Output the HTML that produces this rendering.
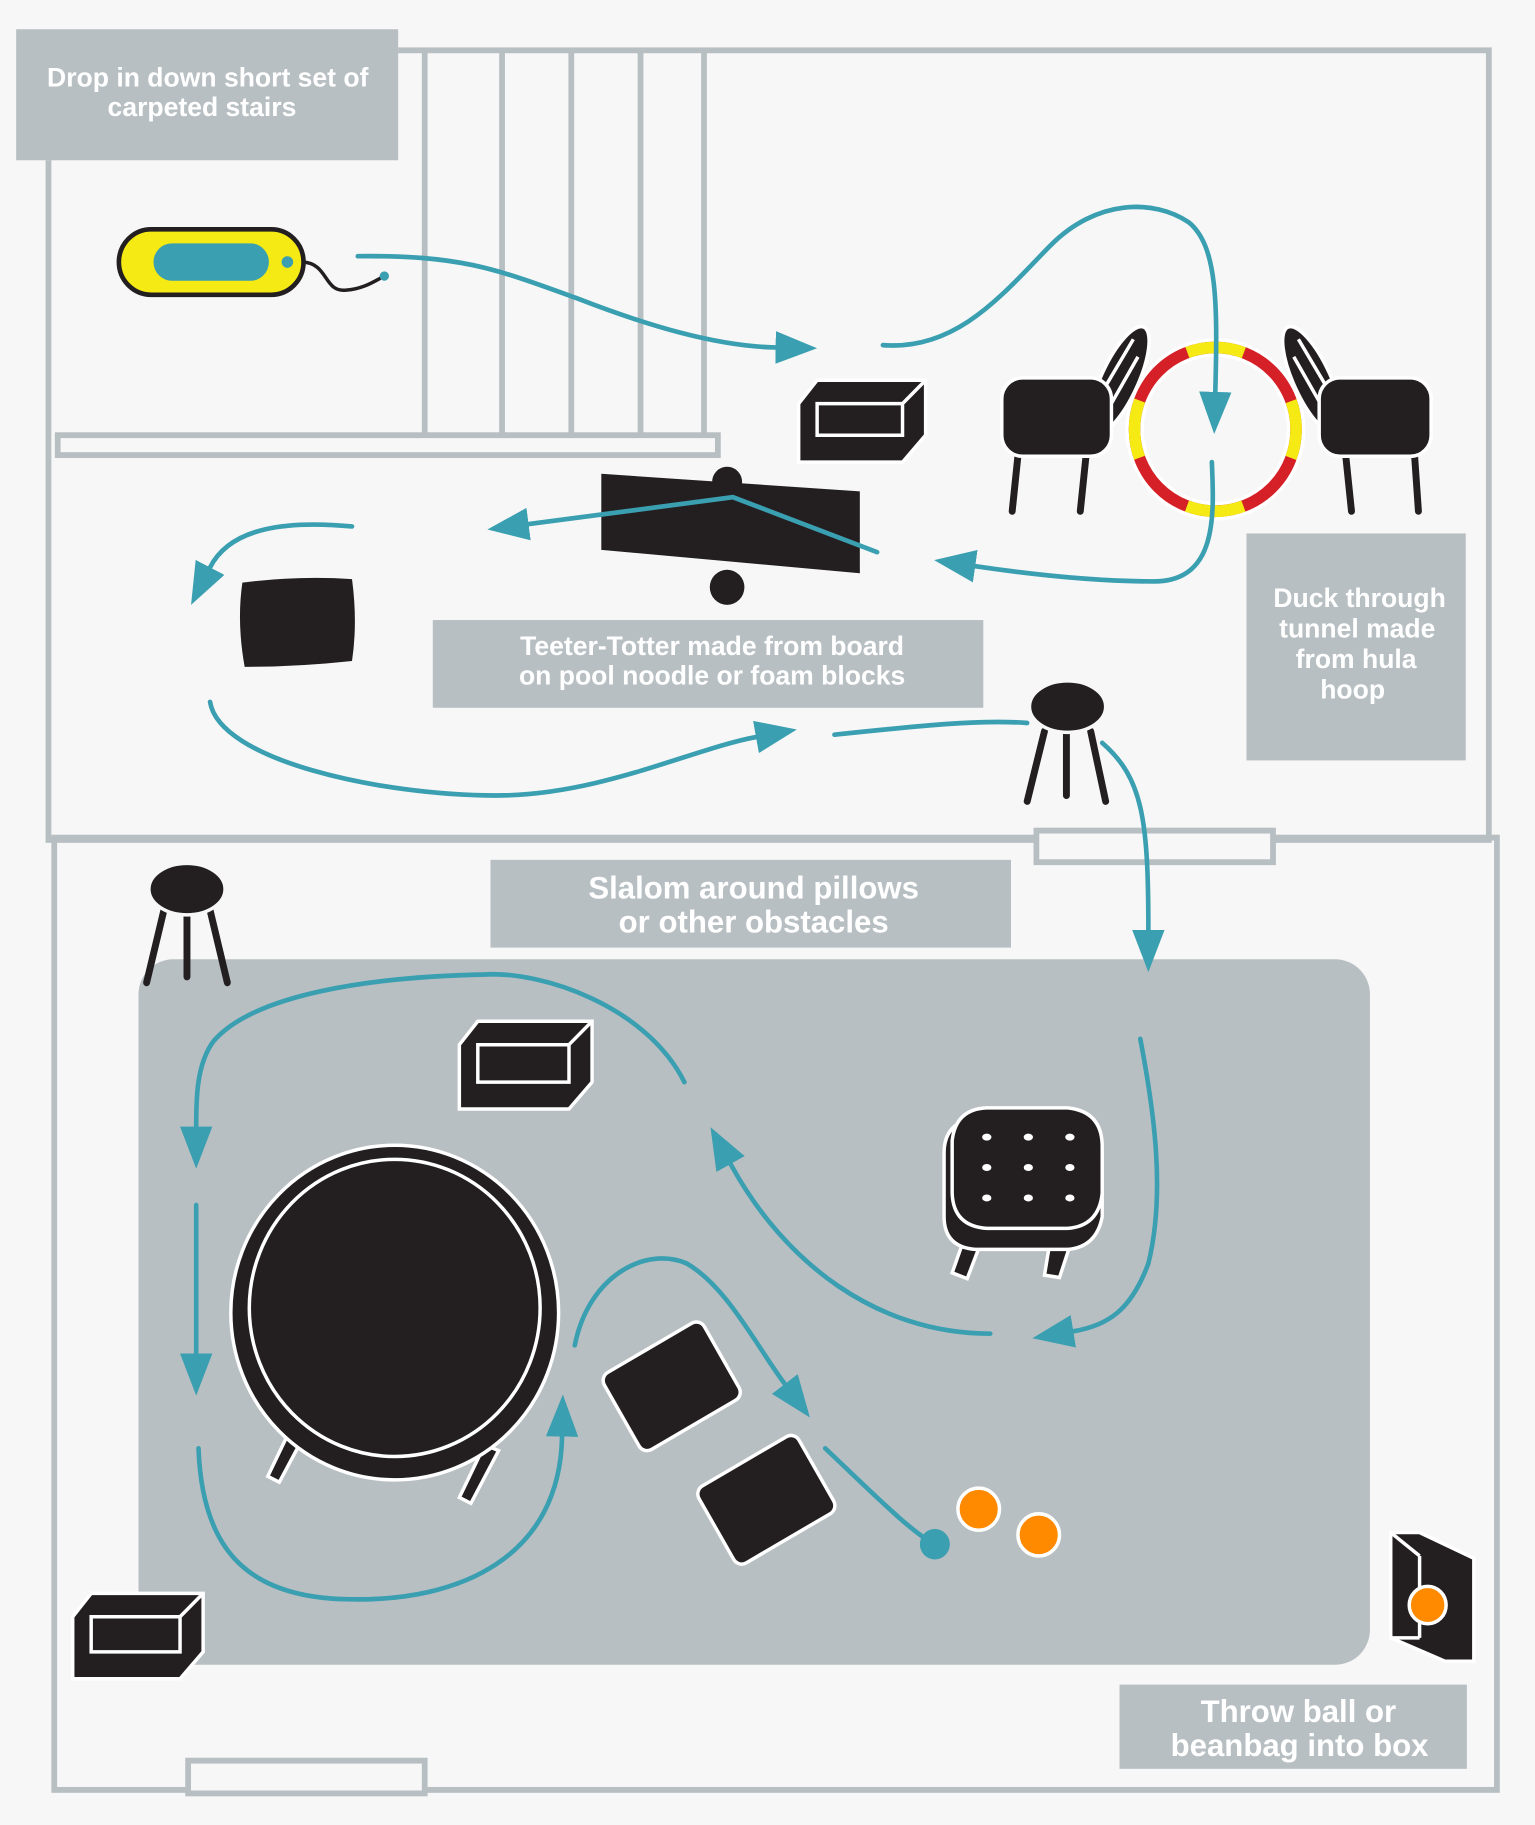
<!DOCTYPE html>
<html><head><meta charset="utf-8"><style>
html,body{margin:0;padding:0;background:#f7f7f7;}
svg{display:block;}
text{font-family:"Liberation Sans",sans-serif;font-weight:bold;fill:#fff;text-anchor:middle;}
</style></head><body>
<svg width="1535" height="1825" viewBox="0 0 1330 1560" preserveAspectRatio="none" xmlns="http://www.w3.org/2000/svg">
<defs>
<marker id="a" viewBox="0 0 10 10" refX="0" refY="5" markerWidth="36" markerHeight="28" markerUnits="userSpaceOnUse" orient="auto" preserveAspectRatio="none">
<path d="M0,0 L10,5 L0,10 z" fill="#3a9fb0"/></marker>
</defs>
<rect width="1330" height="1560" fill="#f7f7f7"/>
<g fill="none" stroke="#b8bfc3" stroke-width="5">
<path d="M42,137 L42,718 L1290,718 L1290,43 L345,43"/>
<line x1="368" y1="43" x2="368" y2="372"/><line x1="435" y1="43" x2="435" y2="372"/>
<line x1="495" y1="43" x2="495" y2="372"/><line x1="555" y1="43" x2="555" y2="372"/>
<line x1="610" y1="43" x2="610" y2="372"/>
<rect x="50" y="372" width="572" height="17"/>
<rect x="47" y="716" width="1250" height="814"/>
<rect x="898" y="710" width="205" height="27" fill="#f7f7f7"/>
<rect x="163" y="1505" width="205" height="28" fill="#f7f7f7"/>
</g>
<rect x="14" y="25" width="331" height="112" fill="#b8bfc3"/>
<text x="180" y="74" font-size="23">Drop in down short set of</text>
<text x="175" y="99" font-size="23">carpeted stairs</text>
<rect x="120" y="820" width="1067" height="603" rx="30" fill="#b8bfc3"/>
<rect x="375" y="530" width="477" height="75" fill="#b8bfc3"/>
<text x="617" y="560" font-size="23">Teeter-Totter made from board</text>
<text x="617" y="585" font-size="23">on pool noodle or foam blocks</text>
<rect x="1080" y="456" width="190" height="194" fill="#b8bfc3"/>
<text x="1178" y="519" font-size="23">Duck through</text>
<text x="1176" y="545" font-size="23">tunnel made</text>
<text x="1175" y="571" font-size="23">from hula</text>
<text x="1172" y="597" font-size="23">hoop</text>
<rect x="425" y="735" width="451" height="75" fill="#b8bfc3"/>
<text x="653" y="768" font-size="27">Slalom around pillows</text>
<text x="653" y="797" font-size="27">or other obstacles</text>
<rect x="970" y="1440" width="301" height="72" fill="#b8bfc3"/>
<text x="1125" y="1472" font-size="27">Throw ball or</text>
<text x="1126" y="1501" font-size="27">beanbag into box</text>

<g fill="#231f20">
<rect x="103" y="196" width="160" height="56" rx="28" fill="#f5ea14" stroke="#231f20" stroke-width="4"/>
<rect x="133" y="208" width="100" height="32" rx="16" fill="#3a9fb0"/>
<circle cx="249" cy="224" r="5" fill="#3a9fb0"/>
<path d="M262,224 C285,225 280,250 300,248 C315,247 325,240 333,236" fill="none" stroke="#231f20" stroke-width="3"/>
<circle cx="333" cy="236" r="4" fill="#3a9fb0"/>
<g stroke="#fff" stroke-width="3">
<polygon points="692,345 708,325 802,325 802,372 782,395 692,395"/>
<polygon points="398,893 414,873 513,873 513,925 493,948 398,948"/>
<polygon points="63,1382 79,1362 176,1362 176,1412 156,1435 63,1435"/>
<polygon points="1205,1310 1230,1310 1277,1332 1277,1420 1252,1420 1205,1400"/>
</g>
<g fill="none" stroke="#fff" stroke-width="3">
<path d="M708,345 H782 V372 H708 Z M782,345 L802,325"/>
<path d="M414,893 H493 V925 H414 Z M493,893 L513,873"/>
<path d="M79,1382 H156 V1412 H79 Z M156,1382 L176,1362"/>
<path d="M1230,1330 V1400 M1205,1310 L1230,1330 M1205,1400 L1230,1400"/>
</g>
<circle cx="1237" cy="1372" r="16" fill="#ff8a00" stroke="#fff" stroke-width="3"/>
<circle cx="630" cy="412" r="13"/>
<circle cx="630" cy="502" r="15"/>
<polygon points="521,405 745,420 745,490 521,470"/>
<g fill="none" stroke="#231f20" stroke-width="6" stroke-linecap="round">
<line x1="883" y1="380" x2="877" y2="437"/><line x1="942" y1="380" x2="936" y2="437"/>
<line x1="1165" y1="380" x2="1171" y2="437"/><line x1="1225" y1="380" x2="1229" y2="437"/>
</g>
<ellipse cx="970" cy="325" rx="16" ry="50" transform="rotate(25 970 325)" stroke="#fff" stroke-width="3"/>
<ellipse cx="1137" cy="325" rx="16" ry="50" transform="rotate(-25 1137 325)" stroke="#fff" stroke-width="3"/>
<g stroke="#fff" stroke-width="3">
<line x1="958" y1="330" x2="982" y2="290"/><line x1="960" y1="350" x2="986" y2="305"/>
<line x1="1149" y1="330" x2="1125" y2="290"/><line x1="1147" y1="350" x2="1121" y2="305"/>
</g>
<rect x="868" y="323" width="95" height="67" rx="18" stroke="#fff" stroke-width="3"/>
<rect x="1143" y="323" width="97" height="67" rx="18" stroke="#fff" stroke-width="3"/>
<circle cx="1053" cy="367" r="70" fill="none" stroke="#fff" stroke-width="16"/>
<circle cx="1053" cy="367" r="70" fill="none" stroke="#d62027" stroke-width="10"/>
<circle cx="1053" cy="367" r="70" fill="none" stroke="#f5ea14" stroke-width="10" stroke-dasharray="50 60" stroke-dashoffset="25"/>
<path d="M210,498 Q258,492 305,495 Q310,532 305,565 Q258,570 212,570 Q205,532 210,498 Z"/>
<g fill="none" stroke="#231f20" stroke-width="6" stroke-linecap="round">
<line x1="905" y1="625" x2="890" y2="685"/><line x1="924" y1="628" x2="924" y2="680"/><line x1="945" y1="625" x2="958" y2="685"/>
<line x1="142" y1="778" x2="127" y2="840"/><line x1="162" y1="780" x2="162" y2="835"/><line x1="182" y1="778" x2="197" y2="840"/>
</g>
<ellipse cx="925" cy="604" rx="33" ry="22" stroke="#f7f7f7" stroke-width="3"/>
<ellipse cx="162" cy="760" rx="33" ry="22" stroke="#f7f7f7" stroke-width="3"/>
<g stroke="#fff" stroke-width="3">
<path d="M250,1225 L232,1262 L242,1267 L262,1230 Z"/>
<path d="M420,1235 L398,1280 L408,1285 L432,1240 Z"/>
<ellipse cx="342" cy="1122" rx="142" ry="143"/>
</g>
<ellipse cx="342" cy="1118" rx="126" ry="127" fill="none" stroke="#fff" stroke-width="3"/>
<g stroke="#fff" stroke-width="3">
<path d="M835,1060 L825,1088 L838,1093 L850,1062 Z"/>
<path d="M910,1060 L905,1090 L918,1092 L928,1062 Z"/>
<path d="M818,985 Q818,960 845,955 L930,955 Q955,960 955,990 L955,1040 Q950,1066 925,1068 L845,1068 Q818,1066 818,1040 Z"/>
<path d="M825,975 Q828,948 855,947 L925,947 Q955,950 955,980 L955,1020 Q952,1048 925,1050 L855,1050 Q826,1048 825,1020 Z"/>
</g>
<g fill="#fff">
<ellipse cx="855" cy="972" rx="4" ry="3"/><ellipse cx="891" cy="972" rx="4" ry="3"/><ellipse cx="927" cy="972" rx="4" ry="3"/>
<ellipse cx="855" cy="998" rx="4" ry="3"/><ellipse cx="891" cy="998" rx="4" ry="3"/><ellipse cx="927" cy="998" rx="4" ry="3"/>
<ellipse cx="855" cy="1024" rx="4" ry="3"/><ellipse cx="891" cy="1024" rx="4" ry="3"/><ellipse cx="927" cy="1024" rx="4" ry="3"/>
</g>
<g stroke="#fff" stroke-width="3">
<rect x="-50" y="-38" width="100" height="76" rx="8" transform="translate(582,1185) rotate(-30)"/>
<rect x="-50" y="-38" width="100" height="76" rx="8" transform="translate(664,1282) rotate(-30)"/>
</g>
</g>
<circle cx="848" cy="1290" r="18" fill="#ff8a00" stroke="#fff" stroke-width="3"/>
<circle cx="900" cy="1312" r="18" fill="#ff8a00" stroke="#fff" stroke-width="3"/>
<circle cx="810" cy="1320" r="13" fill="#3a9fb0"/>

<g fill="none" stroke="#3a9fb0" stroke-width="4" stroke-linecap="round">
<path d="M310,219 C400,218 430,230 500,255 C560,278 620,296 672,297" marker-end="url(#a)"/>
<path d="M765,295 C830,300 870,250 910,210 C950,170 1000,170 1030,190 C1055,210 1055,260 1053,335" marker-end="url(#a)"/>
<path d="M1050,395 C1052,440 1055,497 1000,497 C950,497 900,492 845,484" marker-end="url(#a)"/>
<path d="M760,472 L635,425 L458,448" marker-end="url(#a)"/>
<path d="M305,450 C250,445 200,450 182,485" marker-end="url(#a)"/>
<path d="M182,600 C190,650 330,680 430,680 C520,680 600,640 655,630" marker-end="url(#a)"/>
<path d="M723,628 C800,620 850,615 890,618"/>
<path d="M955,635 C990,665 995,700 995,795" marker-end="url(#a)"/>
<path d="M988,888 C1000,950 1010,1020 995,1080 C980,1120 960,1133 930,1138" marker-end="url(#a)"/>
<path d="M858,1140 C760,1140 680,1080 633,995" marker-end="url(#a)"/>
<path d="M593,925 C560,860 470,830 420,833 C320,835 220,850 185,890 C170,910 170,940 170,963" marker-end="url(#a)"/>
<path d="M170,1030 L170,1157" marker-end="url(#a)"/>
<path d="M172,1238 C175,1320 210,1365 300,1367 C400,1370 485,1330 487,1228" marker-end="url(#a)"/>
<path d="M498,1150 C510,1090 560,1065 595,1080 C630,1100 655,1150 680,1183" marker-end="url(#a)"/>
<path d="M715,1238 C760,1280 790,1310 810,1320"/>
</g>
</svg>
</body></html>
